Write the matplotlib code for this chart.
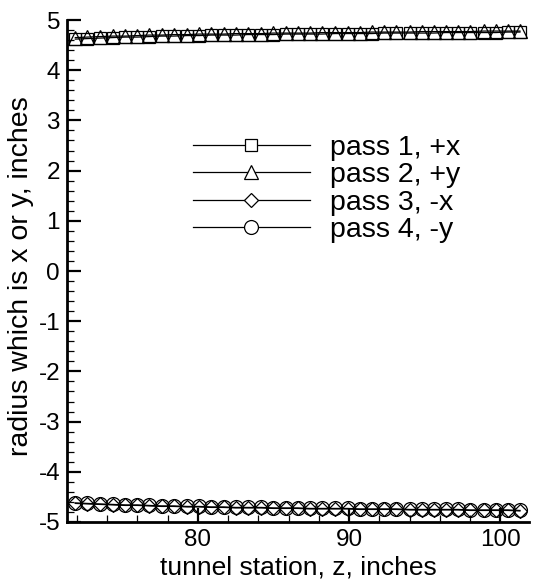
import matplotlib
matplotlib.use("Agg")
import matplotlib.pyplot as plt
from matplotlib.lines import Line2D
from matplotlib.ticker import MultipleLocator

plt.rcParams['font.family'] = ['Liberation Sans', 'DejaVu Sans']
plt.rcParams['axes.unicode_minus'] = False

# tunnel station, inches
z = [71.9, 72.7, 73.5, 74.4, 75.2, 76.0, 76.8, 77.6, 78.4, 79.3,
     80.1, 80.9, 81.7, 82.5, 83.3, 84.2, 85.0, 85.8, 86.6, 87.4,
     88.2, 89.1, 89.9, 90.7, 91.5, 92.3, 93.1, 94.0, 94.8, 95.6,
     96.4, 97.2, 98.0, 98.9, 99.7, 100.5, 101.3]

# measured radius for each pass, inches
pass1 = [4.62, 4.63, 4.64, 4.65, 4.66, 4.66, 4.67, 4.68, 4.68, 4.69,
         4.69, 4.70, 4.70, 4.70, 4.71, 4.71, 4.71, 4.72, 4.72, 4.72,
         4.72, 4.73, 4.73, 4.73, 4.73, 4.74, 4.74, 4.74, 4.74, 4.74,
         4.75, 4.75, 4.75, 4.75, 4.75, 4.76, 4.76]
pass2 = [4.65, 4.66, 4.67, 4.68, 4.68, 4.69, 4.70, 4.70, 4.71, 4.71,
         4.72, 4.72, 4.72, 4.73, 4.73, 4.73, 4.74, 4.74, 4.74, 4.74,
         4.75, 4.75, 4.75, 4.75, 4.76, 4.76, 4.76, 4.76, 4.77, 4.77,
         4.77, 4.77, 4.77, 4.78, 4.78, 4.78, 4.78]
pass3 = [-4.63, -4.64, -4.65, -4.66, -4.67, -4.67, -4.68, -4.69, -4.69, -4.70,
         -4.70, -4.71, -4.71, -4.72, -4.72, -4.72, -4.73, -4.73, -4.73, -4.74,
         -4.74, -4.74, -4.74, -4.75, -4.75, -4.75, -4.75, -4.76, -4.76, -4.76,
         -4.76, -4.76, -4.77, -4.77, -4.77, -4.77, -4.78]
pass4 = [-4.62, -4.63, -4.64, -4.65, -4.66, -4.66, -4.67, -4.68, -4.68, -4.69,
         -4.69, -4.70, -4.70, -4.71, -4.71, -4.71, -4.72, -4.72, -4.72, -4.73,
         -4.73, -4.73, -4.73, -4.74, -4.74, -4.74, -4.74, -4.75, -4.75, -4.75,
         -4.75, -4.75, -4.76, -4.76, -4.76, -4.76, -4.77]

labels = ["pass 1, +x", "pass 2, +y", "pass 3, -x", "pass 4, -y"]
markers = ["s", "^", "D", "o"]
msizes = [8.6, 9.4, 7.6, 10.0]

fig = plt.figure(figsize=(5.33, 5.82), dpi=100)
ax = fig.add_axes([0.1257, 0.1031, 0.8668, 0.8625])

handles = []
for y, lab, m, ms in zip([pass1, pass2, pass3, pass4], labels, markers, msizes):
    # hollow symbols on the curves so overlapping passes stay visible
    ax.plot(z, y, color="black", linewidth=0.9, marker=m, markersize=ms,
            markerfacecolor="none", markeredgecolor="black",
            markeredgewidth=0.9)
    handles.append(Line2D([], [], color="black", linewidth=0.9, marker=m,
                          markersize=ms, markerfacecolor="white",
                          markeredgecolor="black", markeredgewidth=0.9,
                          label=lab))

ax.set_xlim(71.35, 101.9)
ax.set_ylim(-5, 5)
ax.xaxis.set_major_locator(MultipleLocator(10))
ax.xaxis.set_minor_locator(MultipleLocator(2))
ax.yaxis.set_major_locator(MultipleLocator(1))
ax.yaxis.set_minor_locator(MultipleLocator(0.2))

ax.spines['top'].set_visible(False)
ax.spines['right'].set_visible(False)
ax.spines['left'].set_linewidth(2)
ax.spines['bottom'].set_linewidth(2)
ax.tick_params(which='major', direction='in', length=10, width=1.6,
               labelsize=17.5, pad=5)
ax.tick_params(which='minor', direction='in', length=5, width=0.9)

ax.set_xlabel("tunnel station, z, inches", fontsize=19, labelpad=3)
ax.set_ylabel("radius which is x or y, inches", fontsize=20.5)
ax.yaxis.set_label_coords(-0.072, 0.49)

ax.legend(handles=handles, loc='upper left',
          bbox_to_anchor=(193 / 533, 1 - 135 / 582),
          bbox_transform=fig.transFigure, frameon=False, fontsize=20.5,
          handlelength=4.1, handletextpad=0.7, labelspacing=0.05,
          borderpad=0, borderaxespad=0)

fig.savefig("out.png", dpi=100)
